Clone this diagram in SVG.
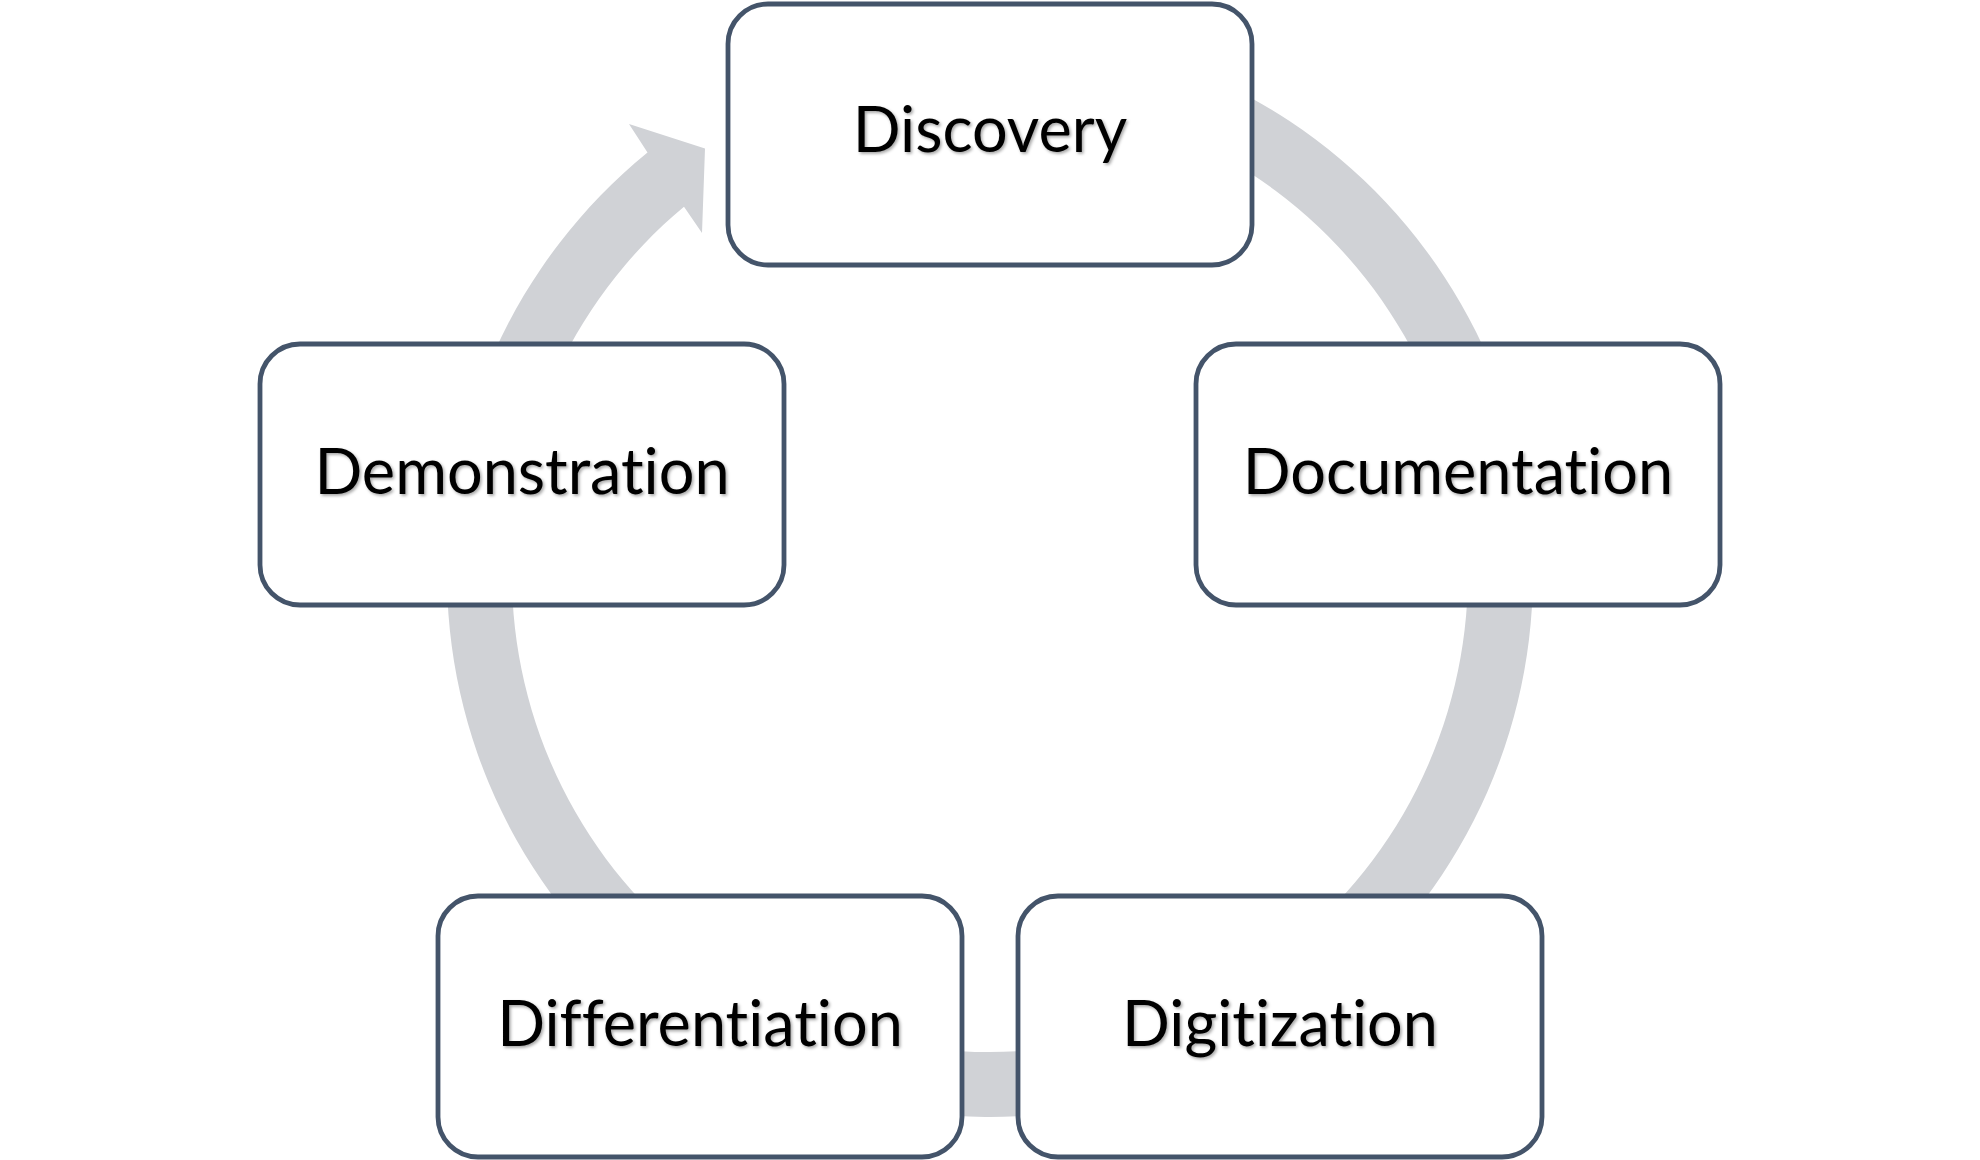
<svg xmlns="http://www.w3.org/2000/svg" width="1980" height="1160" viewBox="0 0 1980 1160">
  <defs>
    <filter id="ts" x="-10%" y="-30%" width="120%" height="160%">
      <feDropShadow dx="1.6" dy="1.8" stdDeviation="1.4" flood-color="#000000" flood-opacity="0.35"/>
    </filter>
  </defs>
  <style>
    .box { fill: #ffffff; stroke: #44546A; stroke-width: 4.8; }
    .lbl { font-family: Lato, "Open Sans", "Liberation Sans", sans-serif; font-size: 63px; fill: #000000; text-anchor: middle; filter: url(#ts); font-variant-ligatures: none; font-feature-settings: "liga" 0, "clig" 0; }
    .ring { fill: #D0D2D6; stroke: none; }
  </style>
  <rect width="1980" height="1160" fill="#ffffff"/>
  <g id="connectors">
    <path class="ring" d="M 990 31 A 543 543 0 1 1 647.5 152.6 L 629 124 L 705 148.5 L 702 233 L 684 206.7 A 478 478 0 1 0 990 96 Z"/>
  </g>
  <g id="node-discovery">
    <rect class="box" x="728" y="4" width="524" height="261" rx="40" ry="40"/>
    <text class="lbl" x="990" y="152">Discovery</text>
  </g>
  <g id="node-documentation">
    <rect class="box" x="1196" y="344" width="524" height="261" rx="40" ry="40"/>
    <text class="lbl" x="1458" y="494">Documentation</text>
  </g>
  <g id="node-digitization">
    <rect class="box" x="1018" y="896" width="524" height="261" rx="40" ry="40"/>
    <text class="lbl" x="1280" y="1046">Digitization</text>
  </g>
  <g id="node-differentiation">
    <rect class="box" x="438" y="896" width="524" height="261" rx="40" ry="40"/>
    <text class="lbl" x="700" y="1046">Differentiation</text>
  </g>
  <g id="node-demonstration">
    <rect class="box" x="260" y="344" width="524" height="261" rx="40" ry="40"/>
    <text class="lbl" x="522" y="494">Demonstration</text>
  </g>
</svg>
